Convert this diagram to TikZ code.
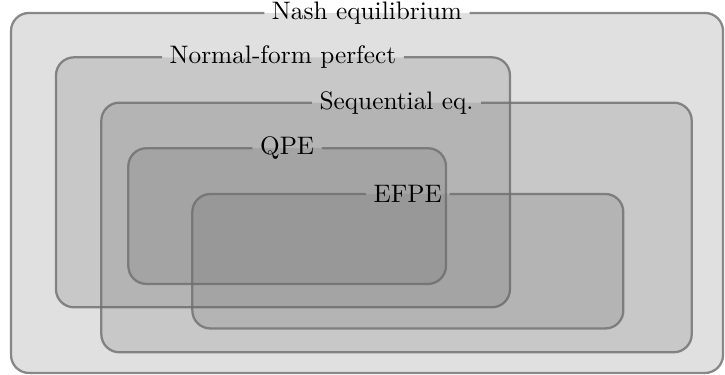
\documentclass[tikz,border=0pt]{standalone}
\usepackage{tikz}

\tikzset{
  setarea/.style={shape=rectangle, rounded corners=0.25cm, fill=black!60, fill opacity=0.2, inner sep=0pt, outer sep=0pt},
  setline/.style={draw=black!57, draw opacity=0.8, line width=0.9pt, rounded corners=0.25cm},
  setname/.style={inner xsep=3pt, inner ysep=0pt, outer sep=0pt}
}

\begin{document}
\begin{tikzpicture}
\useasboundingbox (0,0) rectangle (10.069,5.208);
% Nash equilibrium
\node (nash) at (5.097,2.528) [setarea, minimum width=9.889cm, minimum height=5.0cm] {};
\node (nashname) at (nash.north) [setname] {Nash equilibrium};
\draw [setline] (nashname.east) -- (nash.north east) -- (nash.south east) -- (nash.south west) -- (nash.north west) -- (nashname.west);
% Normal-form perfect
\node (nfp) at (3.930,2.676) [setarea, minimum width=6.305cm, minimum height=3.472cm] {};
\node (nfpname) at (nfp.north) [setname] {Normal-form perfect};
\draw [setline] (nfpname.east) -- (nfp.north east) -- (nfp.south east) -- (nfp.south west) -- (nfp.north west) -- (nfpname.west);
% Sequential eq.
\node (seq) at (5.507,2.049) [setarea, minimum width=8.2cm, minimum height=3.467cm] {};
\node (seqname) at (seq.north) [setname] {Sequential eq.};
\draw [setline] (seqname.east) -- (seq.north east) -- (seq.south east) -- (seq.south west) -- (seq.north west) -- (seqname.west);
% QPE
\node (qpe) at (3.988,2.207) [setarea, minimum width=4.412cm, minimum height=1.885cm] {};
\node (qpename) at (qpe.north) [setname] {QPE};
\draw [setline] (qpename.east) -- (qpe.north east) -- (qpe.south east) -- (qpe.south west) -- (qpe.north west) -- (qpename.west);
% EFPE
\node (efpe) at (5.664,1.580) [setarea, minimum width=5.986cm, minimum height=1.868cm] {};
\node (efpename) at (efpe.north) [setname] {EFPE};
\draw [setline] (efpename.east) -- (efpe.north east) -- (efpe.south east) -- (efpe.south west) -- (efpe.north west) -- (efpename.west);
\end{tikzpicture}
\end{document}
